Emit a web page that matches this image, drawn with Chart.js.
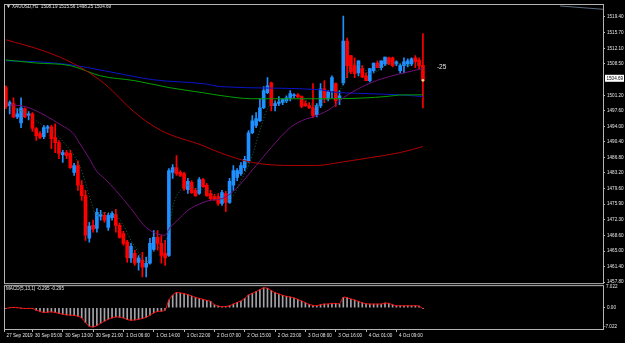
<!DOCTYPE html>
<html>
<head>
<meta charset="utf-8">
<script src="https://cdn.jsdelivr.net/npm/chart.js@4.4.0/dist/chart.umd.min.js"></script>
<style>
  html, body { margin: 0; padding: 0; background: #000; }
  #wrap { position: relative; width: 625px; height: 343px; overflow: hidden; }
  canvas { display: block; }
</style>
</head>
<body>
<div id="wrap"><canvas id="chart" width="625" height="343"></canvas></div>
<script>
// XAUUSD H1 candles, one per hour, left to right
const opens = [1503.0,1498.8,1499.3,1496.2,1494.8,1498.1,1496.5,1496.9,1493.5,1492.3,
  1491.6,1493.5,1493.9,1491.4,1490.2,1487.4,1487.9,1487.7,1483.3,1484.9,
  1480.3,1477.9,1468.0,1471.0,1470.3,1473.1,1473.3,1470.5,1472.8,1473.5,
  1471.0,1469.1,1467.1,1463.4,1464.5,1462.4,1462.9,1461.3,1462.2,1465.4,
  1468.2,1466.8,1464.5,1464.0,1483.3,1484.4,1483.3,1483.0,1479.3,1481.0,
  1479.1,1478.4,1481.6,1480.3,1478.4,1477.7,1477.7,1476.1,1478.4,1476.3,
  1480.3,1482.1,1483.0,1484.4,1486.0,1492.5,1494.2,1495.3,1498.3,1501.8,
  1504.1,1498.8,1499.3,1499.5,1499.9,1500.6,1501.1,1501.3,1500.9,1499.3,
  1498.8,1498.3,1496.7,1498.8,1502.7,1500.4,1502.3,1503.9,1500.6,1504.1,
  1513.8,1510.4,1508.1,1506.4,1507.4,1505.7,1504.6,1506.9,1508.7,1507.6,
  1508.5,1509.9,1509.9,1508.5,1506.9,1508.1,1508.5,1508.5,1509.9,1509.4,
  1508.19];
const highs = [1503.4,1499.9,1500.6,1498.1,1500.6,1498.3,1497.4,1497.2,1493.7,1492.8,
  1494.2,1494.2,1494.2,1494.6,1490.7,1488.4,1488.4,1488.4,1485.4,1486.0,
  1481.4,1479.1,1471.7,1472.2,1474.9,1474.5,1474.0,1473.8,1474.2,1474.7,
  1471.5,1469.6,1467.5,1466.8,1465.2,1464.0,1464.7,1463.6,1468.0,1469.8,
  1469.8,1468.7,1467.5,1484.2,1485.1,1487.2,1483.7,1483.3,1481.9,1481.4,
  1479.6,1482.1,1481.9,1480.7,1479.1,1478.2,1478.4,1479.1,1478.9,1481.9,
  1484.9,1484.2,1485.6,1487.0,1493.0,1496.5,1497.2,1500.4,1503.2,1505.3,
  1504.3,1499.9,1500.9,1500.4,1501.1,1502.3,1501.6,1501.6,1501.1,1499.9,
  1499.5,1503.9,1499.3,1503.9,1504.6,1502.3,1505.7,1504.1,1502.3,1519.6,
  1514.5,1510.4,1509.9,1509.2,1508.1,1506.4,1507.4,1508.7,1509.2,1509.2,
  1510.1,1510.1,1510.1,1509.2,1508.5,1509.9,1509.7,1509.9,1510.4,1509.9,
  1515.56];
const lows = [1498.1,1496.9,1496.0,1495.8,1493.7,1496.0,1495.5,1492.8,1490.7,1491.1,
  1491.1,1492.5,1488.8,1487.9,1486.5,1485.6,1486.5,1484.2,1482.6,1479.1,
  1476.8,1467.5,1467.1,1469.4,1469.4,1472.2,1471.7,1469.8,1472.2,1469.4,
  1468.0,1466.4,1462.4,1462.4,1461.7,1460.6,1459.0,1459.0,1462.0,1465.0,
  1465.2,1462.2,1461.7,1463.8,1481.9,1482.6,1482.3,1479.1,1478.4,1478.4,
  1477.7,1478.2,1479.8,1477.7,1476.8,1476.8,1475.6,1475.6,1474.2,1476.1,
  1479.1,1481.4,1482.6,1483.7,1485.6,1492.3,1493.7,1495.1,1498.1,1501.6,
  1497.6,1497.6,1498.8,1499.0,1499.5,1499.9,1500.6,1500.6,1498.3,1498.6,
  1498.1,1496.0,1496.2,1498.3,1499.5,1499.9,1500.6,1498.6,1499.0,1503.6,
  1505.3,1506.2,1505.3,1505.7,1505.3,1504.6,1504.3,1506.4,1507.6,1507.1,
  1508.1,1508.3,1507.8,1508.1,1506.4,1506.4,1507.8,1508.1,1507.6,1507.4,
  1498.25];
const closes = [1498.6,1499.5,1496.2,1496.9,1498.3,1496.2,1496.9,1493.5,1491.8,1491.4,
  1493.7,1493.9,1491.1,1490.2,1487.7,1487.9,1487.2,1484.4,1484.9,1480.3,
  1477.9,1468.7,1470.8,1470.1,1474.0,1473.5,1472.2,1473.3,1473.8,1471.0,
  1468.2,1466.8,1463.4,1466.1,1462.2,1463.4,1461.3,1462.2,1466.8,1468.2,
  1466.8,1464.0,1463.4,1483.7,1484.4,1483.0,1482.6,1479.6,1481.2,1478.6,
  1477.9,1481.6,1480.0,1477.9,1477.2,1477.0,1476.1,1478.6,1476.3,1481.2,
  1483.7,1483.7,1484.9,1486.3,1492.5,1495.3,1495.8,1498.3,1502.3,1503.4,
  1498.8,1499.3,1499.7,1500.2,1500.6,1501.6,1501.3,1500.9,1498.6,1498.8,
  1498.3,1496.5,1498.8,1502.7,1500.6,1502.0,1505.3,1499.9,1501.1,1513.8,
  1508.1,1506.7,1506.2,1509.2,1505.5,1504.6,1507.4,1508.7,1507.6,1509.2,
  1510.1,1508.5,1508.1,1509.0,1508.1,1509.0,1509.2,1509.7,1509.0,1508.1,
  1504.69];

// moving averages, read at a few bars each (bar index, price)
const maRedIdx = [0,10,18,26,34,41,52,57,65,75,82,88,96,104,110];
const maRed = [1514.1,1511.5,1508.5,1503.9,1497.2,1493.0,1489.5,1487.7,1485.6,1484.9,
  1484.9,1485.6,1486.7,1487.9,1489.3];
const maBlueIdx = [0,8,17,26,39,52,57,83,86,95,104,110];
const maBlue = [1509.2,1509.0,1508.3,1506.9,1504.8,1503.9,1503.2,1502.5,1502.0,1501.6,1501.3,1500.9];
const maGreenIdx = [0,8,17,25,34,43,52,57,65,78,86,95,100,105,110];
const maGreen = [1509.4,1508.7,1508.1,1505.7,1504.6,1503.0,1501.8,1501.1,1500.4,1500.4,
  1500.4,1500.6,1500.9,1501.3,1501.3];
const maPurpleIdx = [1,5,8,11,14,18,19,22,24,26,29,33,37,42,43,46,48,52,54,57,60,66,70,75,78,82,86,89,94,99,104,110];
const maPurple = [1499.0,1498.6,1497.6,1496.2,1494.6,1492.1,1490.7,1486.5,1483.5,1481.9,
  1479.1,1474.9,1470.5,1468.7,1470.1,1472.8,1474.5,1476.3,1476.8,1477.2,
  1478.9,1484.9,1489.1,1493.7,1495.3,1496.5,1498.3,1500.6,1503.2,1505.0,1506.2,1507.4];
const maFastIdx = [0,2,5,8,11,13,16,18,20,22,24,26,29,31,33,35,37,39,41,43,
  44,46,48,50,53,55,58,60,62,64,65,67,69,71,73,75,78,80,82,84,
  86,88,90,92,94,96,98,100,102,104,106,108,110];
const maFast = [1499.9,1498.3,1497.2,1495.3,1493.5,1492.3,1489.5,1487.2,1483.7,1477.9,
  1473.3,1474.0,1473.3,1471.0,1467.5,1464.7,1462.4,1465.2,1466.4,1469.8,
  1475.2,1479.1,1480.3,1479.6,1479.1,1477.9,1476.8,1477.9,1481.4,1484.9,
  1487.2,1493.0,1498.1,1499.9,1499.5,1500.4,1500.4,1499.5,1498.6,1499.9,
  1501.1,1502.3,1505.7,1508.5,1507.8,1506.2,1506.9,1508.1,1508.7,1508.5,
  1508.1,1508.5,1506.9];
const trendIdx = [146.2, 157.5];
const trendVal = [1521.95, 1521.18];

// MACD(5,13,1) main, one per bar (signal period 1 = same values)
const macd = [-0.2,0.0,0.1,0.0,-0.1,-0.2,-0.2,-0.2,-0.7,-1.1,
  -1.4,-1.3,-1.2,-1.4,-1.7,-1.9,-2.1,-2.2,-2.3,-2.5,
  -3.0,-4.4,-5.5,-5.7,-5.3,-4.6,-4.0,-3.4,-3.0,-2.7,
  -2.8,-3.0,-3.5,-3.7,-3.6,-3.4,-3.2,-2.8,-2.2,-1.5,
  -1.1,-1.0,-0.7,2.3,3.8,4.5,4.4,4.2,3.9,3.5,
  3.1,2.8,2.5,2.2,1.9,0.9,0.5,0.3,0.4,0.6,
  1.1,1.6,2.0,2.8,3.8,4.3,4.8,5.4,5.9,5.8,
  5.1,4.5,4.1,3.7,3.4,3.2,2.9,2.5,2.0,1.5,
  1.0,0.7,0.6,0.9,1.1,1.1,1.3,1.3,1.2,3.1,
  3.0,2.6,2.3,1.9,1.5,1.2,1.1,1.1,1.1,1.1,
  1.4,1.3,0.9,0.6,0.6,0.6,0.6,0.6,0.6,0.5,
  -0.295];

// axis texts
const priceTicks = [1519.40,1515.70,1512.10,1508.50,1501.20,1497.60,1494.00,1490.40,1486.80,
  1483.20,1479.60,1475.90,1472.30,1468.60,1465.00,1461.40,1457.80];
const timeTickIdx = [-0.5,7,15,23,31,39,47,55,63,71,79,87,95,103];
const timeTickLabels = ['27 Sep 2019','30 Sep 05:00','30 Sep 13:00','30 Sep 21:00','1 Oct 06:00',
  '1 Oct 14:00','1 Oct 22:00','2 Oct 07:00','2 Oct 15:00','2 Oct 23:00','3 Oct 08:00',
  '3 Oct 16:00','4 Oct 01:00','4 Oct 09:00'];
const titleText = 'XAUUSD,H1  1508.19 1515.56 1498.25 1504.69';
const macdText = 'MACD(5,13,1) -0.295 -0.295';
const macdTop = '7.022', macdBottom = '-7.022';
const spreadText = '-25';

const BULL = '#1e90ff', BEAR = '#ff0000';
const FG = '#e6e6e6', FRAME = '#b4b4b4';
const FONT = 'Liberation Sans, Arial, sans-serif';
const tiny = { size: 4.6, family: FONT };

const candleColor = opens.map((o, i) => closes[i] >= o ? BULL : BEAR);
const pts = (idx, vals) => idx.map((x, i) => ({ x: x, y: vals[i] }));

function maLine(idx, vals, color, extra) {
    return Object.assign({
        type: 'line', yAxisID: 'y', data: pts(idx, vals),
        borderColor: color, borderWidth: 1, pointRadius: 0,
        cubicInterpolationMode: 'monotone', order: 0
    }, extra || {});
}

function noPad(s) {
    s.paddingTop = 0; s.paddingBottom = 0; s.paddingLeft = 0; s.paddingRight = 0;
}

const overlay = {
    id: 'overlay',
    afterDraw(chart) {
        const { ctx, chartArea: a, scales } = chart;
        const xs = scales.x, ys = scales.y, ms = scales.m;
        ctx.save();
        ctx.strokeStyle = FRAME;
        ctx.lineWidth = 1;
        ctx.strokeRect(a.left + 0.5, ys.top + 0.5, a.right - a.left, ys.bottom - ys.top - 1);
        ctx.strokeRect(a.left + 0.5, ms.top + 1.5, a.right - a.left, ms.bottom - ms.top - 2);

        ctx.fillStyle = FG;
        ctx.textBaseline = 'middle';
        ctx.font = '5px ' + FONT;
        ctx.fillText('\u25BC', a.left + 2, ys.top + 2.8);
        ctx.font = '4.6px ' + FONT;
        ctx.fillText(titleText, a.left + 8, ys.top + 2.8);
        ctx.fillText(macdText, a.left + 2, ms.top + 5);
        ctx.fillText(macdTop, a.right + 3, ms.top + 3);
        ctx.fillText(macdBottom, a.right + 1, ms.bottom - 3.5);

        // current price box
        const last = closes[closes.length - 1];
        const yc = ys.getPixelForValue(last) - 2;
        ctx.fillStyle = '#ffffff';
        ctx.fillRect(a.right + 2, yc - 3.5, 19, 7);
        ctx.fillStyle = '#000000';
        ctx.fillText(last.toFixed(2), a.right + 3.5, yc);

        ctx.fillStyle = FG;
        ctx.font = '6.5px ' + FONT;
        ctx.fillText(spreadText, xs.getPixelForValue(113.7), ys.getPixelForValue(1507.7));
        ctx.restore();
    }
};

new Chart(document.getElementById('chart'), {
    type: 'bar',
    data: {
        datasets: [
            maLine(maFastIdx, maFast, '#1f6a48', { borderDash: [1, 2] }),
            maLine(maPurpleIdx, maPurple, '#72107a'),
            maLine(maRedIdx, maRed, '#b00000'),
            maLine(maGreenIdx, maGreen, '#00a000'),
            maLine(maBlueIdx, maBlue, '#0a14c8'),
            maLine(trendIdx, trendVal, '#5c6c7c', { cubicInterpolationMode: 'default' }),
            {
                type: 'line', yAxisID: 'y', data: [{ x: closes.length - 1, y: closes[closes.length - 1] }],
                showLine: false, pointRadius: 1.4, pointBackgroundColor: '#ffd27a', pointBorderWidth: 0, order: 0
            },
            {
                type: 'bar', yAxisID: 'y', grouped: false, order: 2,
                data: opens.map((o, i) => ({ x: i, y: [o, closes[i]] })),
                backgroundColor: candleColor, barThickness: 3, minBarLength: 1
            },
            {
                type: 'bar', yAxisID: 'y', grouped: false, order: 3,
                data: lows.map((l, i) => ({ x: i, y: [l, highs[i]] })),
                backgroundColor: candleColor, barThickness: 1
            },
            {
                type: 'line', yAxisID: 'm', order: 4,
                data: macd.map((v, i) => ({ x: i, y: v })),
                borderColor: '#ff1010', borderWidth: 1, pointRadius: 0, tension: 0.3
            },
            {
                type: 'bar', yAxisID: 'm', grouped: false, order: 5,
                data: macd.map((v, i) => ({ x: i, y: v })),
                backgroundColor: '#a4a4aa', barThickness: 1
            }
        ]
    },
    options: {
        responsive: false,
        animation: false,
        layout: { padding: { top: 3, left: 1, right: 0, bottom: 0 } },
        plugins: { legend: { display: false }, tooltip: { enabled: false } },
        scales: {
            x: {
                type: 'linear', position: 'bottom', min: -0.5, max: 157.5, offset: false,
                afterBuildTicks: s => { s.ticks = timeTickIdx.map(v => ({ value: v })); },
                afterFit: s => { s.height = 13; noPad(s); },
                border: { display: false },
                grid: { drawOnChartArea: false, offset: false, color: FRAME, tickLength: 2 },
                ticks: {
                    color: FG, font: tiny, align: 'start', autoSkip: false, maxRotation: 0,
                    padding: 1, labelOffset: 2.6,
                    callback: (v, i) => timeTickLabels[i]
                }
            },
            y: {
                position: 'right', stack: 'win', stackWeight: 281,
                min: 1457.337, max: 1522.41,
                afterBuildTicks: s => { s.ticks = priceTicks.map(v => ({ value: v })); },
                afterFit: s => { s.width = 22; noPad(s); },
                border: { display: false },
                grid: { drawOnChartArea: false, color: FRAME, tickLength: 2 },
                ticks: { color: FG, font: tiny, padding: 2, autoSkip: false, callback: v => v.toFixed(2) }
            },
            m: {
                position: 'right', stack: 'win', stackWeight: 46,
                min: -6.607, max: 7.022,
                afterBuildTicks: s => { s.ticks = [{ value: 0 }]; },
                afterFit: s => { s.width = 22; noPad(s); },
                border: { display: false },
                grid: { drawOnChartArea: false, color: FRAME, tickLength: 2 },
                ticks: { color: FG, font: tiny, padding: 2, callback: () => '0.00' }
            }
        }
    },
    plugins: [overlay]
});
</script>
</body>
</html>
